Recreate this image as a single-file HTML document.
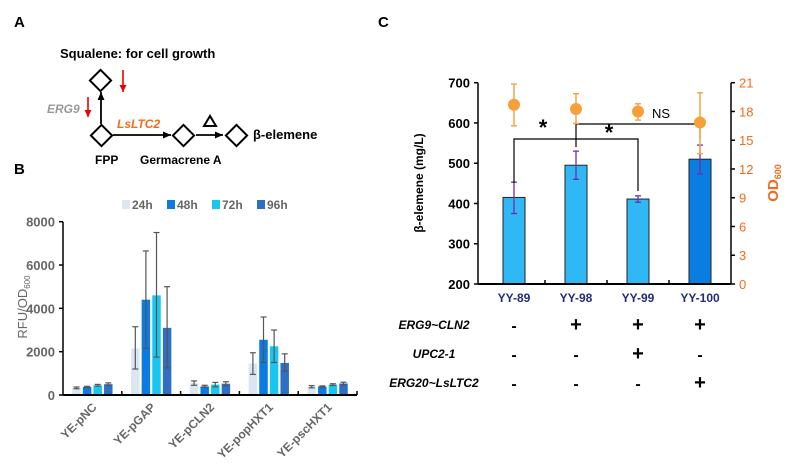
<!DOCTYPE html>
<html><head><meta charset="utf-8"><style>
html,body{margin:0;padding:0;background:#fff;}
svg{display:block;font-family:"Liberation Sans",Arial,sans-serif;font-weight:bold;}
</style></head><body>
<svg id="fig" width="796" height="472" viewBox="0 0 796 472" xmlns="http://www.w3.org/2000/svg">
<defs><marker id="ah" markerUnits="userSpaceOnUse" markerWidth="9" markerHeight="8" refX="8" refY="4" orient="auto"><path d="M0,0.5 L8,4 L0,7.5 Z" fill="#000"/></marker>
<marker id="rh" markerUnits="userSpaceOnUse" markerWidth="8" markerHeight="9" refX="7" refY="4" orient="auto"><path d="M0,0.5 L7,4 L0,7.5 Z" fill="#e00"/></marker></defs>
<!-- Panel A -->
<g>
<text x="14" y="27" font-size="15">A</text>
<text x="60" y="58" font-size="13">Squalene: for cell growth</text>
<rect x="93" y="73" width="15" height="15" transform="rotate(45 100.5 80.5)" fill="#fff" stroke="#000" stroke-width="2"/>
<line x1="101" y1="124" x2="101" y2="92" stroke="#000" stroke-width="1.8" marker-end="url(#ah)"/>
<rect x="94" y="128" width="15" height="15" transform="rotate(45 101.5 135.5)" fill="#fff" stroke="#000" stroke-width="2"/>
<line x1="123" y1="70" x2="123" y2="92" stroke="#e00" stroke-width="1.6" marker-end="url(#rh)"/>
<line x1="88" y1="97" x2="88" y2="117" stroke="#e00" stroke-width="1.6" marker-end="url(#rh)"/>
<text x="47" y="113" font-size="12" fill="#999" font-style="italic">ERG9</text>
<text x="117" y="128" font-size="12" fill="#f26b1d" font-style="italic">LsLTC2</text>
<line x1="113" y1="135" x2="171" y2="135" stroke="#000" stroke-width="1.8" marker-end="url(#ah)"/>
<rect x="176" y="128" width="15" height="15" transform="rotate(45 183.5 135.5)" fill="#fff" stroke="#000" stroke-width="2"/>
<line x1="196" y1="135" x2="223" y2="135" stroke="#000" stroke-width="1.8" marker-end="url(#ah)"/>
<path d="M204,126 L210,116 L216,126 Z" fill="none" stroke="#000" stroke-width="2"/>
<rect x="229" y="128" width="15" height="15" transform="rotate(45 236.5 135.5)" fill="#fff" stroke="#000" stroke-width="2"/>
<text x="253" y="139" font-size="13">β-elemene</text>
<text x="95" y="164" font-size="12">FPP</text>
<text x="140" y="164" font-size="12">Germacrene A</text>
</g>
<text x="14" y="174" font-size="15">B</text>
<g id="chartB"></g>
<text x="378" y="27" font-size="15">C</text>
<g id="chartC"></g>
</svg>
<script>
// ---- Panel B data ----
const bCategories = ["YE-pNC","YE-pGAP","YE-pCLN2","YE-popHXT1","YE-pscHXT1"];
const bSeries = ["24h","48h","72h","96h"];
const b24 = [330,2150,550,1450,380];
const b48 = [370,4400,400,2550,390];
const b72 = [450,4600,480,2250,480];
const b96 = [500,3100,520,1480,530];
const b24Lo = [290,1200,450,950,330];
const b24Hi = [370,3150,650,1950,430];
const b48Lo = [340,2150,350,1500,360];
const b48Hi = [400,6650,450,3600,420];
const b72Lo = [410,1750,380,1500,440];
const b72Hi = [490,7500,580,3000,520];
const b96Lo = [440,1250,430,1100,470];
const b96Hi = [560,5000,610,1900,590];
const bTicks = [0,2000,4000,6000,8000];
// ---- Panel C data ----
const cCategories = ["YY-89","YY-98","YY-99","YY-100"];
const cElemene = [415,495,411,510];
const cElemLo = [375,460,403,473];
const cElemHi = [453,530,419,545];
const cOD = [18.7,18.25,18.0,16.85];
const cODLo = [16.5,16.75,17.1,13.6];
const cODHi = [20.85,19.85,18.8,19.95];
const cLeftTicks = [200,300,400,500,600,700];
const cRightTicks = [0,3,6,9,12,15,18,21];
const cRows = ["ERG9~CLN2","UPC2-1","ERG20~LsLTC2"];
const cSigns = [["-","+","+","+"],["-","-","+","-"],["-","-","-","+"]];

const NS="http://www.w3.org/2000/svg";
function mk(parent,tag,attrs,text){const e=document.createElementNS(NS,tag);for(const k in attrs)e.setAttribute(k,attrs[k]);if(text!==undefined)e.textContent=text;parent.appendChild(e);return e;}
function errBar(parent,x,y1,y2,color,w){
 const g=mk(parent,'g',{stroke:color,"stroke-width":w});
 mk(g,'line',{x1:x,x2:x,y1:y1,y2:y2});
 mk(g,'line',{x1:x-3,x2:x+3,y1:y1,y2:y1});
 mk(g,'line',{x1:x-3,x2:x+3,y1:y2,y2:y2});
 return g;
}

// ---- Panel B ----
(function(){
const g=document.getElementById('chartB');
const x0=63,x1=357,yTop=221.7,yBot=395,vmax=8000;
const y=v=>yBot-(v/vmax)*(yBot-yTop);
const gw=(x1-x0)/bCategories.length;
const gx=i=>x0+gw*(i+0.5);
const colors=["#dce6f2","#0a7be0","#19c6f0","#2e6fc4"];
const vals=[b24,b48,b72,b96],los=[b24Lo,b48Lo,b72Lo,b96Lo],his=[b24Hi,b48Hi,b72Hi,b96Hi];
const bw=8.5,step=10.6;
const errLayer=[];
bCategories.forEach((c,i)=>{
 vals.forEach((arr,s)=>{
  const bx=gx(i)+(s-1.5)*step;
  const r=mk(g,'rect',{x:bx-bw/2,y:y(arr[i]),width:bw,height:yBot-y(arr[i]),fill:colors[s]});
  
  
  errLayer.push([bx,y(los[s][i]),y(his[s][i])]);
 });
 const t=mk(g,'text',{x:0,y:0,"font-size":12,fill:'#666',"text-anchor":'end',transform:`translate(${gx(i)+5},${yBot+13}) rotate(-45)`},c);
 
 
 if(i>0){mk(g,'line',{x1:x0+gw*i,x2:x0+gw*i,y1:yBot,y2:yBot-4,stroke:'#000',"stroke-width":1.5});}
});
errLayer.forEach(d=>{
 const e=errBar(g,d[0],d[1],d[2],'#555',1.2);
 
 
});
mk(g,'line',{x1:x0,x2:x1,y1:yBot,y2:yBot,stroke:'#000',"stroke-width":2});
mk(g,'line',{x1:x1,x2:x1,y1:yBot,y2:yBot-4,stroke:'#000',"stroke-width":1.5});
mk(g,'line',{x1:x0,x2:x0,y1:yTop,y2:yBot,stroke:'#000',"stroke-width":1.5});
bTicks.forEach(v=>{
 mk(g,'line',{x1:x0-4,x2:x0,y1:y(v),y2:y(v),stroke:'#000',"stroke-width":1.5});
 const t=mk(g,'text',{x:x0-8,y:y(v)+5,"font-size":13,fill:'#666',"text-anchor":'end'},String(v));
 
 
});
const yt=mk(g,'text',{x:0,y:0,"font-size":13,fill:'#666',"font-weight":'normal',"text-anchor":'middle',transform:'translate(27,307) rotate(-90)'});


yt.innerHTML='RFU/OD<tspan font-size="8" dy="3">600</tspan>';
bSeries.forEach((s,k)=>{
 const lx=122+k*45;
 const sw=mk(g,'rect',{x:lx,y:200,width:8,height:9,fill:colors[k]});
 
 
 const t=mk(g,'text',{x:lx+10,y:209,"font-size":12,fill:'#666'},s);
 
 
});
})();

// ---- Panel C ----
(function(){
const g=document.getElementById('chartC');
const x0=478,x1=731,yTop=82.7,yBot=284;
const yl=v=>yBot-(v-200)/500*(yBot-yTop);
const yr=v=>yBot-v/21*(yBot-yTop);
const cx=i=>514+i*62;
const bw=22;
cCategories.forEach((c,i)=>{
 const r=mk(g,'rect',{x:cx(i)-bw/2,y:yl(cElemene[i]),width:bw,height:yBot-yl(cElemene[i]),fill:i===3?'#0a7de0':'#2fb8f5',stroke:'#222',"stroke-width":1});
 
 
 const e=errBar(g,cx(i),yl(cElemLo[i]),yl(cElemHi[i]),'#7030a0',1.3);
 
 
 const t=mk(g,'text',{x:cx(i),y:302,"font-size":12,fill:'#1f2d7a',"text-anchor":'middle'},c);
 
 
 if(i<3) mk(g,'line',{x1:cx(i)+31,x2:cx(i)+31,y1:yBot,y2:yBot-4,stroke:'#000',"stroke-width":1.5});
});
mk(g,'path',{d:`M514,183V139H638V191`,fill:'none',stroke:'#000',"stroke-width":1.2});
mk(g,'path',{d:`M576,147V124H700V138`,fill:'none',stroke:'#000',"stroke-width":1.2});
const s1=mk(g,'text',{x:543,y:135,"font-size":22,"text-anchor":'middle'},'*');


const s2=mk(g,'text',{x:609,y:140,"font-size":22,"text-anchor":'middle'},'*');


const ns=mk(g,'text',{x:652,y:118,"font-size":13,"font-weight":'normal'},'NS');


cCategories.forEach((c,i)=>{
 const e=errBar(g,cx(i),yr(cODLo[i]),yr(cODHi[i]),'#f7a54a',1.5);
 
 
 const p=mk(g,'circle',{cx:cx(i),cy:yr(cOD[i]),r:6,fill:'#f7a03a'});
 
 
});
mk(g,'line',{x1:x0,x2:x1,y1:yBot,y2:yBot,stroke:'#000',"stroke-width":2});
mk(g,'line',{x1:x0,x2:x0,y1:yTop,y2:yBot,stroke:'#000',"stroke-width":1.5});
mk(g,'line',{x1:x1,x2:x1,y1:yTop,y2:yBot,stroke:'#000',"stroke-width":1.5});
cLeftTicks.forEach(v=>{
 mk(g,'line',{x1:x0-4,x2:x0,y1:yl(v),y2:yl(v),stroke:'#000',"stroke-width":1.5});
 const t=mk(g,'text',{x:x0-8,y:yl(v)+5,"font-size":13,"text-anchor":'end'},String(v));
 
 
});
cRightTicks.forEach(v=>{
 mk(g,'line',{x1:x1,x2:x1+4,y1:yr(v),y2:yr(v),stroke:'#000',"stroke-width":1.5});
 const t=mk(g,'text',{x:x1+8,y:yr(v)+5,"font-size":13,fill:'#f26b1d',"font-weight":'normal'},String(v));
 
 
});
const lt=mk(g,'text',{x:0,y:0,"font-size":12,"text-anchor":'middle',transform:'translate(423,183) rotate(-90)'},'β-elemene (mg/L)');


const rt=mk(g,'text',{x:0,y:0,"font-size":15,fill:'#f26b1d',"text-anchor":'middle',transform:'translate(778,183) rotate(-90)'});


rt.innerHTML='OD<tspan font-size="9" dy="3">600</tspan>';
cRows.forEach((r,j)=>{
 const yy=329+j*29;
 const t=mk(g,'text',{x:434,y:yy,"font-size":12,"font-style":'italic',"text-anchor":'middle'},r);
 
 
 cSigns[j].forEach((s,i)=>{
  const st=mk(g,'text',{x:cx(i),y:yy+2,"font-size":s==='+'?20:16,"text-anchor":'middle'},s);
  
  
 });
});
})();
</script>
</body></html>
